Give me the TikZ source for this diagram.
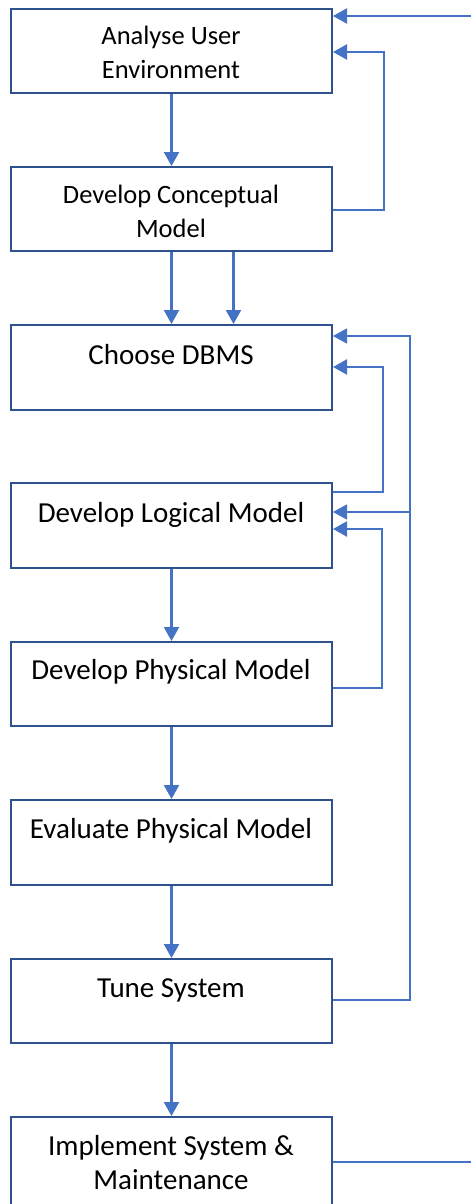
\documentclass[tikz,border=0pt]{standalone}
\usepackage{fontspec}
\setmainfont{Carlito}
\usetikzlibrary{arrows.meta}
\definecolor{ln}{HTML}{4472C4}
\definecolor{bx}{HTML}{2F528F}
\begin{document}
\begin{tikzpicture}[x=1pt,y=-1pt,
  stagebox/.style={draw=bx, line width=2pt, fill=white, anchor=north west, inner sep=0pt, minimum width=321pt},
  lblbig/.style={font=\fontsize{29}{34}\selectfont, align=center, anchor=base, inner sep=0pt},
  lblsmall/.style={font=\fontsize{26.5}{34}\selectfont, align=center, anchor=base, inner sep=0pt},
  arr/.style={draw=ln, line width=2.2pt, -{Triangle[length=14pt,width=15pt]}},
  thinarr/.style={draw=ln, line width=1.2pt, -{Triangle[length=14pt,width=15pt]}},
  thinline/.style={draw=ln, line width=1.2pt}]
\useasboundingbox (0,0) rectangle (471,1204);
% boxes
\node[stagebox, minimum height=84pt] (b1) at (10,8) {};
\node[stagebox, minimum height=84pt] (b2) at (10,166) {};
\node[stagebox, minimum height=85pt] (b3) at (10,324) {};
\node[stagebox, minimum height=85pt] (b4) at (10,482) {};
\node[stagebox, minimum height=84pt] (b5) at (10,641) {};
\node[stagebox, minimum height=85pt] (b6) at (10,799) {};
\node[stagebox, minimum height=84pt] (b7) at (10,958) {};
\node[stagebox, minimum height=100pt] (b8) at (10,1116) {};
% labels (base = baseline of the last line)
\node[lblsmall] (t1) at (171,78.5) {Analyse User\\Environment};
\node[lblsmall] (t2) at (171,237.5) {Develop Conceptual\\Model};
\node[lblbig] (t3) at (171,364.3) {Choose DBMS};
\node[lblbig] (t4) at (171,522.3) {Develop Logical Model};
\node[lblbig] (t5) at (171,679.3) {Develop Physical Model};
\node[lblbig] (t6) at (171,838.3) {Evaluate Physical Model};
\node[lblbig] (t7) at (171,997.3) {Tune System};
\node[lblbig] (t8) at (171,1189.3) {Implement System \&\\Maintenance};
% forward arrows
\draw[arr] (b1.south) -- (b2.north);
\draw[arr] (b2.south) -- (b3.north);
\draw[arr] ([xshift=62pt]b2.south) -- ([xshift=62pt]b3.north);
\draw[arr] (b4.south) -- (b5.north);
\draw[arr] (b5.south) -- (b6.north);
\draw[arr] (b6.south) -- (b7.north);
\draw[arr] (b7.south) -- (b8.north);
% incoming from the right at top
\coordinate (topin) at (471,16);
\draw[arr] (topin) -- (b1.east |- topin);
% feedback b2 -> b1
\coordinate (f1a) at (384,210);
\coordinate (f1b) at (384,52);
\draw[arr] (b2.east |- f1a) -- (f1a) -- (f1b) -- (b1.east |- f1b);
% feedback b4 -> b3
\coordinate (f2a) at (383,492);
\coordinate (f2b) at (383,367);
\draw[arr] (b4.east |- f2a) -- (f2a) -- (f2b) -- (b3.east |- f2b);
% feedback b5 -> b4
\coordinate (f3a) at (382,688);
\coordinate (f3b) at (382,529);
\draw[arr] (b5.east |- f3a) -- (f3a) -- (f3b) -- (b4.east |- f3b);
% feedback b7 -> b3 and b4
\coordinate (f4a) at (410,1000);
\coordinate (f4b) at (410,336);
\coordinate (f4c) at (410,512);
\draw[thinarr] (b7.east |- f4a) -- (f4a) -- (f4b) -- (b3.east |- f4b);
\draw[thinarr] (f4c) -- (b4.east |- f4c);
% outgoing from implement
\coordinate (botout) at (471,1162);
\draw[thinline] (b8.east |- botout) -- (botout);
\end{tikzpicture}
\end{document}
